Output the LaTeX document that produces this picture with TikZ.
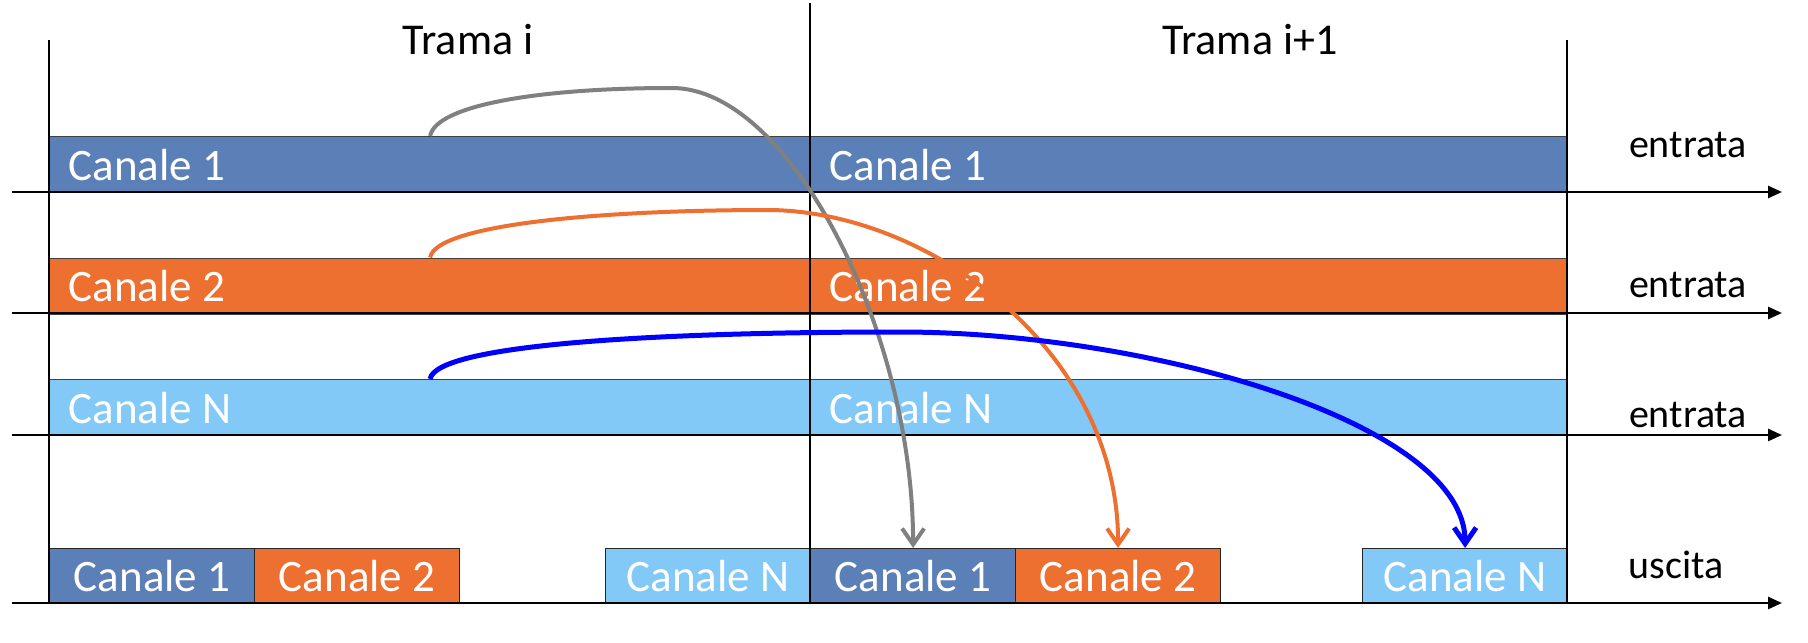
\documentclass[tikz,border=0pt]{standalone}
\usepackage{fontspec}
\setmainfont{Carlito}
\usetikzlibrary{arrows.meta}
\definecolor{chA}{RGB}{91,127,183}
\definecolor{chB}{RGB}{237,112,48}
\definecolor{chN}{RGB}{131,201,247}
\definecolor{arrGray}{RGB}{128,128,128}
\definecolor{arrBlue}{RGB}{0,0,255}
\newcommand{\leftlbl}[2]{\makebox[#1][l]{#2}}
\begin{document}
\begin{tikzpicture}[x=0.5pt, y=-0.5pt,
  barbox/.style={draw=black!75, line width=0.6pt, fill=#1, text=white, anchor=north west,
    minimum height=28pt, inner xsep=9.5pt, inner ysep=0pt,
    font=\fontsize{22.5}{27}\selectfont},
  outbox/.style={draw=black!85, line width=0.6pt, fill=#1, text=white, anchor=north west,
    minimum width=102.5pt, minimum height=27.5pt, inner sep=0pt,
    font=\fontsize{22.5}{27}\selectfont},
  axisline/.style={line width=1.3pt, -{Triangle[length=7pt,width=6pt]}},
  frameline/.style={line width=0.7pt},
  flow/.style={draw=#1, line width=2pt, -{Straight Barb[length=8pt,width=11pt]}},
  title/.style={anchor=base, font=\fontsize{22}{26}\selectfont},
  side/.style={anchor=base, font=\fontsize{20}{24}\selectfont}]
\useasboundingbox (0,0) rectangle (1808,642);

% input bars
\node[barbox=chA] (b1L) at (49,136) {\leftlbl{361.5pt}{Canale 1}};
\node[barbox=chA] (b1R) at (810,136) {\leftlbl{359.5pt}{Canale 1}};
\node[barbox=chB] (b2L) at (49,257.5) {\leftlbl{361.5pt}{Canale 2}};
\node[barbox=chB] (b2R) at (810,257.5) {\leftlbl{359.5pt}{Canale 2}};
\node[barbox=chN] (bNL) at (49,379) {\leftlbl{361.5pt}{Canale N}};
\node[barbox=chN] (bNR) at (810,379) {\leftlbl{359.5pt}{Canale N}};

% output boxes
\node[outbox=chA] (o1L) at (49,548) {Canale 1};
\node[outbox=chB] (o2L) at (254,548) {Canale 2};
\node[outbox=chN] (oNL) at (605,548) {Canale N};
\node[outbox=chA] (o1R) at (810,548) {Canale 1};
\node[outbox=chB] (o2R) at (1015,548) {Canale 2};
\node[outbox=chN] (oNR) at (1362,548) {Canale N};

% frame lines
\coordinate (vLt) at (49,40);   \coordinate (vLb) at (49,603);
\coordinate (vMt) at (810,3);   \coordinate (vMb) at (810,603);
\coordinate (vRt) at (1567,40); \coordinate (vRb) at (1567,603);
\draw[frameline] (vLt) -- (vLb);
\draw[frameline] (vMt) -- (vMb);
\draw[frameline] (vRt) -- (vRb);

% axes
\coordinate (a1s) at (12,192);   \coordinate (a1e) at (1782,192);
\coordinate (a2s) at (12,313);   \coordinate (a2e) at (1782,313);
\coordinate (a3s) at (12,435);   \coordinate (a3e) at (1782,435);
\coordinate (a4s) at (12,603);   \coordinate (a4e) at (1782,603);
\draw[axisline] (a1s) -- (a1e);
\draw[axisline] (a2s) -- (a2e);
\draw[axisline] (a3s) -- (a3e);
\draw[axisline] (a4s) -- (a4e);

% labels
\node[title] (t1) at (468,55) {Trama i};
\node[title] (t2) at (1250,55) {Trama i+1};
\node[side] (e1) at (1688,157) {entrata};
\node[side] (e2) at (1688,297) {entrata};
\node[side] (e3) at (1688,427) {entrata};
\node[side] (u1) at (1676,578) {uscita};

% flows
\coordinate (pkG) at (672,88);
\coordinate (pkO) at (770,210);
\coordinate (pkB) at (900,332);
\draw[flow=arrGray] (b1L.north) .. controls +(6,-31) and +(-132,0) .. (pkG)
  .. controls +(118,0) and +(0,-217) .. (o1R.north);
\draw[flow=chB] (b2L.north) .. controls +(6,-33) and +(-170,0) .. (pkO)
  .. controls +(160,2) and +(0,-198) .. (o2R.north);
\draw[flow=arrBlue, line width=2.5pt] (bNL.north) .. controls +(6,-34) and +(-250,0) .. (pkB)
  .. controls +(250,0) and +(0,-125) .. (oNR.north);
\end{tikzpicture}
\end{document}
